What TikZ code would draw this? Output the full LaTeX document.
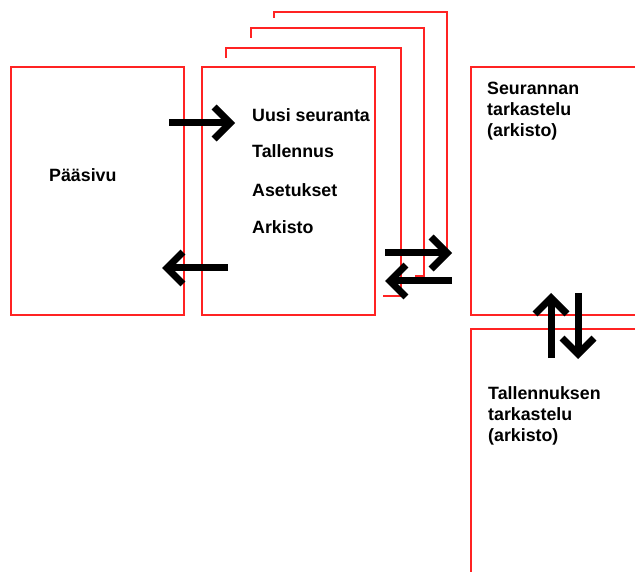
\documentclass[tikz,border=0pt]{standalone}
\usepackage{fontspec}
\setmainfont{Liberation Sans}
\usetikzlibrary{arrows.meta}
\definecolor{pagered}{RGB}{255,35,35}
\begin{document}
\begin{tikzpicture}[x=1pt,y=-1pt,
  frame/.style={draw=pagered, line width=1.8pt},
  screen/.style={frame, inner sep=0pt, outer sep=0pt, anchor=north west},
  label/.style={font=\bfseries\fontsize{17.8}{21}\selectfont, inner sep=0pt, anchor=base west, align=left},
  fatarrow/.style={line width=7pt, -{Straight Barb[length=16pt, width=32pt]}},
]
\path[use as bounding box, clip] (0,0) rectangle (635,572);

% main page
\node[screen, minimum width=173pt, minimum height=248pt] (home) at (11,67) {};
% menu page with the stacked sub-pages behind it
\node[screen, minimum width=173pt, minimum height=248pt] (menu) at (202,67) {};
\draw[frame] (226,58) -- (226,48) -- (401,48) -- (401,296) -- (383,296);
\draw[frame] (251,38) -- (251,28) -- (424,28) -- (424,276) -- (415,276);
\draw[frame] (274,18) -- (274,12) -- (447,12) -- (447,254) -- (440,254);
% archive views (running off the right edge)
\node[screen, minimum width=190pt, minimum height=248pt] (follow) at (471,67) {};
\node[screen, minimum width=190pt, minimum height=260pt] (saved) at (471,329) {};

% texts (multi-line labels are placed by their last baseline)
\node[label] (home-t) at (49,182) {Pääsivu};
\node[label] (m1) at (252,122) {Uusi seuranta};
\node[label] (m2) at (252,158) {Tallennus};
\node[label] (m3) at (252,196.5) {Asetukset};
\node[label] (m4) at (252,234) {Arkisto};
\node[label] (follow-t) at (487,137) {Seurannan\\tarkastelu\\(arkisto)};
\node[label] (saved-t) at (488,441) {Tallennuksen\\tarkastelu\\(arkisto)};

% navigation arrows
\coordinate (a1s) at (169,123);  \coordinate (a1e) at (235,123);
\coordinate (a2s) at (228,268);  \coordinate (a2e) at (162,268);
\coordinate (a3s) at (385,253);  \coordinate (a3e) at (452,253);
\coordinate (a4s) at (452,281);  \coordinate (a4e) at (385,281);
\coordinate (a5s) at (551,358);  \coordinate (a5e) at (551,293);
\coordinate (a6s) at (578,293);  \coordinate (a6e) at (578,359);
\foreach \s/\e in {a1s/a1e, a2s/a2e, a3s/a3e, a4s/a4e, a5s/a5e, a6s/a6e}
  \draw[fatarrow] (\s) -- (\e);
\end{tikzpicture}
\end{document}
